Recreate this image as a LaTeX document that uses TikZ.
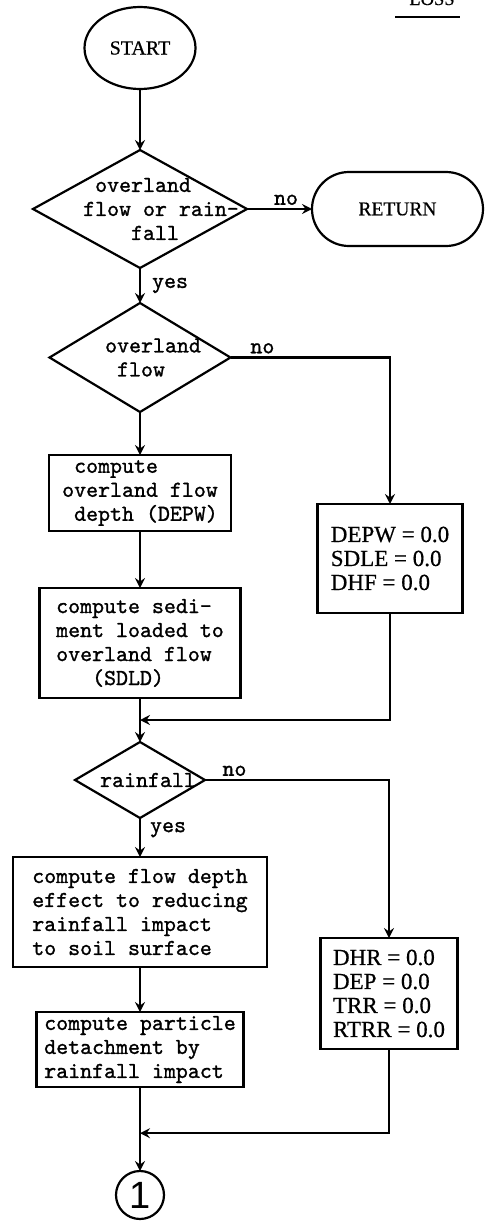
\documentclass[tikz,border=0pt]{standalone}
\usepackage{fontspec}
\newfontfamily\capsfont{Liberation Serif}[FakeBold=0.6]
\newfontfamily\typefont{lmmono10-regular.otf}[FakeBold=1.2]
\newfontfamily\digitfont{Liberation Sans}
\usepackage{tikz}
\usetikzlibrary{positioning,shapes.geometric,shapes.misc,arrows.meta,calc}
\tikzset{
  typed/.style={font=\typefont\fontsize{22.8}{24}\selectfont},
  tag/.style={typed,inner sep=3pt},
  terminal/.style={ellipse,draw,line width=2.2pt,inner sep=0pt,outer sep=0pt,font=\capsfont\fontsize{20}{22}\selectfont},
  exit node/.style={rounded rectangle,draw,line width=2.2pt,inner sep=0pt,outer sep=0pt,font=\capsfont\fontsize{19.5}{22}\selectfont},
  decision/.style={diamond,draw,line width=2.2pt,inner sep=0pt,outer sep=0pt},
  process/.style={rectangle,draw,line width=2.2pt,inner sep=4pt,outer sep=0pt,align=left,typed},
  zero box/.style={rectangle,draw,line width=2.2pt,inner sep=4pt,outer sep=0pt,align=left,font=\capsfont\fontsize{23}{24}\selectfont},
  connector/.style={circle,draw,line width=2.2pt,inner sep=0pt,outer sep=0pt,minimum size=48pt,font=\digitfont\fontsize{38}{38}\selectfont},
  flow/.style={draw,line width=2.2pt,-{Stealth[length=10pt,width=10pt,inset=3.5pt]}}
}
\begin{document}
\begin{tikzpicture}[x=1pt,y=1pt]
\useasboundingbox (0,0) rectangle (485,-1221);

% page heading, cut at the top edge
\node[anchor=base,inner sep=0pt,font=\capsfont\fontsize{18.5}{20}\selectfont] (loss) at (432,-5) {LOSS};
\draw[line width=2.6pt] ($(loss.base west)+(-14,-12)$) -- ($(loss.base east)+(5,-12)$);

% main column
\node[terminal,minimum width=111pt,minimum height=82pt] (start) at (140,-48) {START};
\node[decision,minimum width=214pt,minimum height=118pt] (q1) [below=61pt of start] {};
\node[typed,align=left,xshift=21pt] (q1txt) at (q1) {\phantom{x}overland\\flow or rain-\\\phantom{xxxx}fall};
\node[decision,minimum width=181pt,minimum height=109pt] (q2) [below=35pt of q1] {};
\node[typed,align=left,xshift=13pt] (q2txt) at (q2) {overland\\\phantom{x}flow};
\node[process,minimum width=182pt,minimum height=76pt] (depth) [below=43pt of q2]
  {\phantom{x}compute\\overland flow\\\phantom{x}depth (DEPW)};
\node[process,minimum width=201pt,minimum height=110pt] (sedi) [below=57pt of depth]
  {compute sedi-\\ment loaded to\\overland flow\\\phantom{xxx}(SDLD)};
\node[decision,minimum width=130pt,minimum height=76pt] (q3) [below=44pt of sedi] {};
\node[typed,xshift=8pt] (q3txt) at (q3) {rainfall};
\node[process,minimum width=254pt,minimum height=110pt] (effect) [below=39pt of q3]
  {compute flow depth\\effect to reducing\\rainfall impact\\to soil surface};
\node[process,minimum width=207pt,minimum height=75pt] (detach) [below=45pt of effect]
  {compute particle\\detachment by\\rainfall impact};
\node[connector] (conn) [below=84pt of detach] {1};

% right column
\node[exit node,minimum width=171pt,minimum height=74pt] (ret) [right=65pt of q1] {RETURN};
\node[zero box,minimum width=145pt,minimum height=109pt] (zero1) at (390,-558.5)
  {DEPW = 0.0\\SDLE = 0.0\\DHF = 0.0};
\node[zero box,minimum width=137pt,minimum height=111pt] (zero2) at (389,-993.5)
  {DHR = 0.0\\DEP = 0.0\\TRR = 0.0\\RTRR = 0.0};

% junctions on the main line
\coordinate (j1) at ($(sedi.south)!0.5!(q3.north)$);
\coordinate (j2) at ($(detach.south)!0.55!(conn.north)$);

\draw[flow] (start.south) -- (q1.north);
\draw[flow] (q1.east) -- node[tag,above,pos=0.6] (no1) {no} (ret.west);
\draw[flow] (q1.south) -- node[tag,right=8pt] (yes1) {yes} (q2.north);
\draw[flow] (q2.east) -| node[tag,above,pos=0.1] (no2) {no} (zero1.north);
\draw[flow] (q2.south) -- (depth.north);
\draw[flow] (depth.south) -- (sedi.north);
\draw[flow] (sedi.south) -- (q3.north);
\draw[flow] (zero1.south) |- (j1);
\draw[flow] (q3.east) -| node[tag,above,pos=0.08] (no3) {no} (zero2.north);
\draw[flow] (q3.south) -- node[tag,right=6pt,pos=0.3] (yes2) {yes} (effect.north);
\draw[flow] (effect.south) -- (detach.north);
\draw[flow] (detach.south) -- (conn.north);
\draw[flow] (zero2.south) |- (j2);
\end{tikzpicture}
\end{document}
